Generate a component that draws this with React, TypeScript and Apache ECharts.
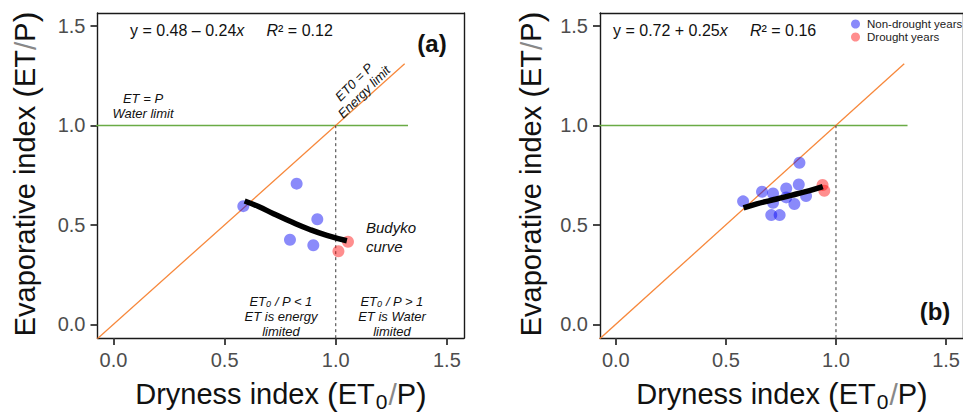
import React, { useEffect, useRef } from 'react';
import * as echarts from 'echarts';

// ---------- data ----------
const tickValues = [0, 0.5, 1.0, 1.5];

const aNonDroughtX = [0.584, 0.824, 0.917, 0.794, 0.899];
const aNonDroughtY = [0.594, 0.707, 0.528, 0.425, 0.397];
const aDroughtX = [1.055, 1.012];
const aDroughtY = [0.415, 0.367];
const aBudykoX = [0.59, 0.65, 0.72, 0.8, 0.88, 0.96, 1.05];
const aBudykoY = [0.62, 0.593, 0.556, 0.515, 0.478, 0.447, 0.42];

const bNonDroughtX = [0.834, 0.578, 0.664, 0.714, 0.714, 0.774, 0.774, 0.831, 0.864, 0.811, 0.706, 0.744];
const bNonDroughtY = [0.812, 0.618, 0.666, 0.658, 0.611, 0.683, 0.638, 0.703, 0.645, 0.605, 0.549, 0.549];
const bDroughtX = [0.939, 0.947];
const bDroughtY = [0.7, 0.671];
const bBudykoX = [0.58, 0.64, 0.7, 0.76, 0.82, 0.88, 0.94];
const bBudykoY = [0.585, 0.605, 0.622, 0.638, 0.655, 0.672, 0.692];

const waterLimitX = [-0.1, 1.325];
const waterLimitY = [1, 1];
const energyLimitX = [-0.1, 1.31];
const energyLimitY = [-0.1, 1.31];
const dividerX = [1, 1];
const dividerY = [-0.1, 1];

const X_MIN = -0.072;
const X_MAX = 1.577;
const Y_MIN = -0.069;
const Y_MAX = 1.565;

const FONT = '"Liberation Sans", Arial, Helvetica, sans-serif';
const BLUE = 'rgba(10,10,245,0.6)';
const RED = 'rgba(255,10,10,0.58)';
const GREEN = '#6aab45';
const ORANGE = '#f7883c';
const FRAME = '#1a1a1a';

const zip = (xs: number[], ys: number[]) => xs.map((x, i) => [x, ys[i]]);

function makeAxes(idx: number) {
  const tick = { show: true, length: 7, lineStyle: { color: '#333', width: 1.8 }, customValues: tickValues };
  const label = {
    customValues: tickValues,
    formatter: (v: number) => v.toFixed(1),
    fontSize: 20,
    fontFamily: FONT,
    color: '#4d4d4d',
  };
  const line = { show: true, onZero: false, lineStyle: { color: FRAME, width: 1.4 } };
  const x = {
    type: 'value',
    gridIndex: idx,
    min: X_MIN,
    max: X_MAX,
    splitLine: { show: false },
    axisLine: line,
    axisTick: tick,
    axisLabel: { ...label, margin: 12 },
  };
  const y = {
    type: 'value',
    gridIndex: idx,
    min: Y_MIN,
    max: Y_MAX,
    splitLine: { show: false },
    axisLine: line,
    axisTick: tick,
    axisLabel: { ...label, margin: 12 },
  };
  const xTop = { type: 'value', gridIndex: idx, position: 'top', min: X_MIN, max: X_MAX, splitLine: { show: false }, axisLine: line, axisTick: { show: false }, axisLabel: { show: false } };
  const yRight = { type: 'value', gridIndex: idx, position: 'right', min: Y_MIN, max: Y_MAX, splitLine: { show: false }, axisLine: line, axisTick: { show: false }, axisLabel: { show: false } };
  return { x, y, xTop, yRight };
}

function panelSeries(idx: number, ndX: number[], ndY: number[], dX: number[], dY: number[], bX: number[], bY: number[]) {
  const common = { xAxisIndex: idx * 2, yAxisIndex: idx * 2, silent: true };
  return [
    {
      ...common,
      type: 'line',
      name: 'water' + idx,
      data: zip(waterLimitX, waterLimitY),
      symbol: 'none',
      lineStyle: { color: GREEN, width: 1.5 },
      z: 1,
    },
    {
      ...common,
      type: 'line',
      name: 'energy' + idx,
      data: zip(energyLimitX, energyLimitY),
      symbol: 'none',
      lineStyle: { color: ORANGE, width: 1.3 },
      z: 1,
    },
    {
      ...common,
      type: 'line',
      name: 'divider' + idx,
      data: zip(dividerX, dividerY),
      symbol: 'none',
      lineStyle: { color: '#222', width: 0.9, type: [3, 3] },
      z: 1,
    },
    {
      ...common,
      type: 'scatter',
      name: 'Non-drought years',
      data: zip(ndX, ndY),
      symbolSize: 12,
      itemStyle: { color: BLUE },
      z: 2,
    },
    {
      ...common,
      type: 'scatter',
      name: 'Drought years',
      data: zip(dX, dY),
      symbolSize: 12,
      itemStyle: { color: RED },
      z: 2,
    },
    {
      ...common,
      type: 'line',
      name: 'budyko' + idx,
      data: zip(bX, bY),
      symbol: 'none',
      smooth: true,
      lineStyle: { color: '#000', width: 5.5 },
      z: 3,
    },
  ];
}

function txt(x: number, y: number, text: string, style: any = {}, extra: any = {}) {
  return {
    type: 'text',
    x,
    y,
    silent: true,
    z: 100,
    ...extra,
    style: {
      text,
      fontFamily: FONT,
      fontSize: 13,
      fill: '#111',
      align: 'center',
      verticalAlign: 'middle',
      ...style,
    },
  };
}

const titleRich = {
  m: { fontSize: 29, fontFamily: FONT, fill: '#111', lineHeight: 36 },
  p: { fontSize: 32, fontFamily: FONT, fill: '#111', lineHeight: 36 },
  s: { fontSize: 21, fontFamily: FONT, fill: '#111', lineHeight: 36, padding: [14, 1, 0, 1] },
  sl: { fontSize: 30, fontFamily: FONT, fill: '#888', lineHeight: 36 },
};

const eqRich = {
  n: { fontSize: 16, fontFamily: FONT, fill: '#111' },
  i: { fontSize: 16, fontFamily: FONT, fill: '#111', fontStyle: 'italic' },
};

const noteRich = {
  i: { fontSize: 13, fontFamily: FONT, fill: '#111', fontStyle: 'italic', lineHeight: 15 },
  s: { fontSize: 9, fontFamily: FONT, fill: '#111', fontStyle: 'italic', lineHeight: 15, padding: [6, 0, 0, 0] },
};

const xTitle = '{m|Dryness index }{p|(}{m|ET}{s|0}{sl|/}{m|P}{p|)}';
const yTitle = '{m|Evaporative index }{p|(}{m|ET}{sl|/}{m|P}{p|)}';

export default function App() {
  const ref = useRef<HTMLDivElement>(null);
  useEffect(() => {
    const chart = echarts.init(ref.current!, null, { renderer: 'svg' });
    const a = makeAxes(0);
    const b = makeAxes(1);
    const option: any = {
      animation: false,
      backgroundColor: '#fff',
      grid: [
        { left: 97.5, top: 13, width: 366.5, height: 325 },
        { left: 600, top: 13, width: 366.5, height: 325 },
      ],
      xAxis: [a.x, a.xTop, b.x, b.xTop],
      yAxis: [a.y, a.yRight, b.y, b.yRight],
      legend: {
        data: ['Non-drought years', 'Drought years'],
        orient: 'vertical',
        left: 851,
        top: 17.5,
        padding: 0,
        itemGap: 0,
        itemWidth: 9,
        itemHeight: 9,
        icon: 'circle',
        selectedMode: false,
        textStyle: { fontSize: 11.5, fontFamily: FONT, color: '#222', lineHeight: 13, padding: [0, 0, 0, 2] },
      },
      series: [
        ...panelSeries(0, aNonDroughtX, aNonDroughtY, aDroughtX, aDroughtY, aBudykoX, aBudykoY),
        ...panelSeries(1, bNonDroughtX, bNonDroughtY, bDroughtX, bDroughtY, bBudykoX, bBudykoY),
      ],
      graphic: [
        // axis titles
        txt(281, 394, xTitle, { rich: titleRich }),
        txt(782, 394, xTitle, { rich: titleRich }),
        txt(25, 174, yTitle, { rich: titleRich }, { rotation: Math.PI / 2 }),
        txt(531, 174, yTitle, { rich: titleRich }, { rotation: Math.PI / 2 }),
        // equations
        txt(130, 30, '{n|y = 0.48 – 0.24}{i|x}{n|     }{i|R}{n|² = 0.12}', { rich: eqRich, align: 'left' }),
        txt(613, 30, '{n|y = 0.72 + 0.25}{i|x}{n|     }{i|R}{n|² = 0.16}', { rich: eqRich, align: 'left' }),
        // panel tags
        txt(432, 43, '(a)', { fontSize: 24, fontWeight: 'bold' }),
        txt(935, 311, '(b)', { fontSize: 24, fontWeight: 'bold' }),
        // annotations panel a
        txt(143, 106, 'ET = P\nWater limit', { fontStyle: 'italic', fontSize: 13, lineHeight: 15 }),
        txt(359, 87, 'ET0 = P\nEnergy limit', { fontStyle: 'italic', fontSize: 13, lineHeight: 14 }, { rotation: Math.PI / 4 }),
        txt(366, 236.5, 'Budyko\ncurve', { fontStyle: 'italic', fontSize: 15, lineHeight: 19, align: 'left' }),
        txt(281, 316, '{i|ET}{s|0}{i| / P < 1}\n{i|ET is energy}\n{i|limited}', { rich: noteRich }),
        txt(392, 316, '{i|ET}{s|0}{i| / P > 1}\n{i|ET is Water}\n{i|limited}', { rich: noteRich }),
      ],
    };
    chart.setOption(option);
    return () => chart.dispose();
  }, []);
  return <div ref={ref} style={{ position: 'fixed', left: 0, top: 0, width: 963, height: 414 }} />;
}
